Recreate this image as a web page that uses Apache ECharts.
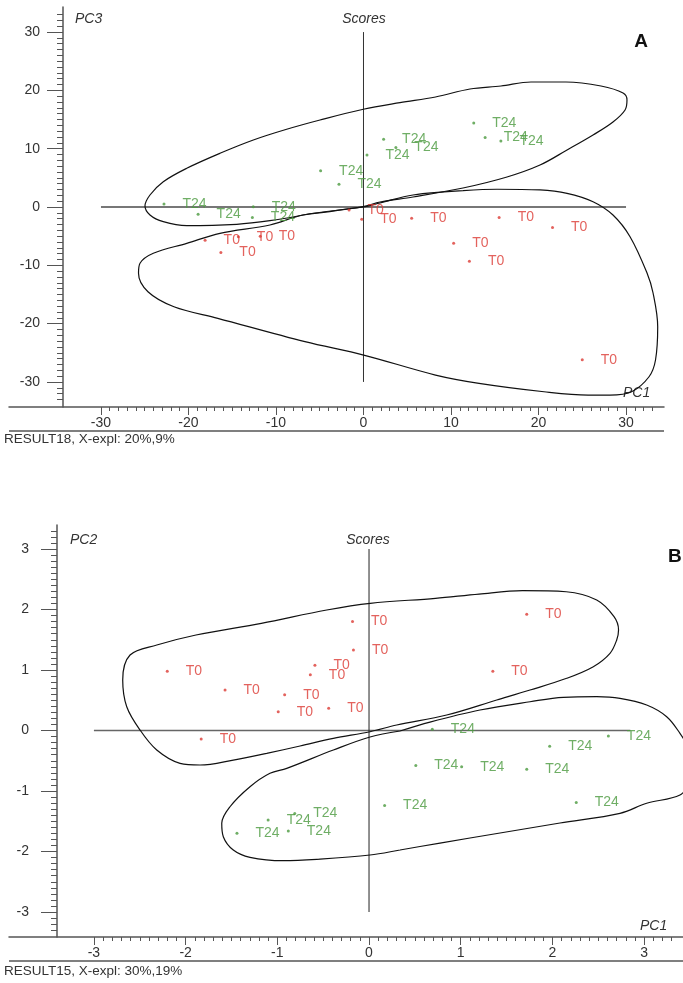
<!DOCTYPE html>
<html>
<head>
<meta charset="utf-8">
<script src="https://cdn.jsdelivr.net/npm/echarts@6/dist/echarts.min.js"></script>
<style>
  html, body { margin: 0; padding: 0; background: #fff; }
  #chart { width: 683px; height: 983px; }
</style>
</head>
<body>
<div id="chart"></div>
<script>
//--------------------------------
// Data : panel A (PC1 / PC3)
//--------------------------------
const aT0 = [[-18.1,-5.7],[-16.3,-7.8],[-14.3,-5.1],[-11.8,-5.0],[-1.65,-0.5],[-0.2,-2.1],
             [5.5,-1.95],[10.3,-6.2],[12.1,-9.3],[15.5,-1.8],[21.6,-3.5],[25.0,-26.2]];
const aT24 = [[-22.8,0.5],[-18.9,-1.25],[-12.6,0.05],[-12.7,-1.8],[-4.9,6.2],[-2.8,3.9],
              [0.4,8.9],[2.3,11.6],[3.7,10.2],[12.6,14.4],[13.9,11.9],[15.7,11.3]];
const aLoopT24 = [[-6.91,-1.37],[-10.69,-2.35],[-14.49,-2.97],[-20.2,-3.21],[-22.88,-2.52],[-24.4,-1.37],
  [-24.97,0.17],[-24.4,2.06],[-22.88,4.34],[-20.2,6.64],[-16.4,9.21],[-12.59,11.49],[-8.78,13.33],
  [-4.97,14.92],[-0.02,16.76],[4.17,17.89],[8.23,18.87],[12.17,20.24],[15.71,20.75],[19.14,21.44],
  [23.14,21.44],[27.14,20.75],[29.66,19.55],[30.11,18.35],[29.89,16.64],[28.51,14.58],[26.23,12.35],
  [23.26,9.78],[20.17,7.2],[16.4,5.15],[11.37,3.26],[5.66,1.72],[1.89,0.86],[-0.06,0.05],[-6.91,-1.37]];
const aLoopT0 = [[11.37,2.8],[15.26,3.04],[20.17,2.92],[23.26,2.35],[26.23,0.91],[28.51,-1.37],
  [30.46,-5.09],[32.4,-11.32],[33.09,-14.75],[33.62,-20.53],[33.37,-26.24],[32.63,-29.11],[30.63,-31.68],
  [28.17,-32.25],[25.66,-32.25],[20.63,-31.68],[13.2,-30.24],[8.23,-28.82],[0.02,-25.39],[-6.69,-23.1],
  [-16.65,-19.09],[-21.66,-17.1],[-24.63,-14.53],[-25.71,-11.37],[-25.54,-9.66],[-24.02,-7.94],
  [-20.2,-6.23],[-16.4,-4.51],[-10.69,-3.09],[-6.91,-1.37],[-0.06,0],[1.89,0.69],[5.66,2.06],[11.37,2.8]];
const aCrossH = [[-30,0],[30,0]];
const aCrossV = [[0,-30],[0,30]];
const aTicksX = [-30,-20,-10,0,10,20,30];
const aTicksY = [-30,-20,-10,0,10,20,30];

//--------------------------------
// Data : panel B (PC1 / PC2)
//--------------------------------
const bT0 = [[-2.2,0.98],[-1.83,-0.14],[-1.57,0.67],[-0.99,0.31],[-0.92,0.59],[-0.64,0.92],
             [-0.59,1.08],[-0.44,0.37],[-0.18,1.8],[-0.17,1.33],[1.35,0.98],[1.72,1.92]];
const bT24 = [[-1.44,-1.7],[-1.1,-1.48],[-0.88,-1.66],[-0.81,-1.37],[0.17,-1.24],[0.51,-0.58],
              [0.69,0.02],[1.01,-0.6],[1.72,-0.64],[1.97,-0.26],[2.26,-1.19],[2.61,-0.09]];
const bLoopT0 = [[-2.497,0.008],[-2.642,0.393],[-2.686,0.835],[-2.606,1.248],[-2.314,1.413],[-1.887,1.579],
  [-1.174,1.772],[-0.461,1.992],[0.013,2.102],[0.725,2.185],[1.2,2.256],[1.675,2.311],[2.15,2.294],
  [2.483,2.157],[2.672,1.881],[2.721,1.661],[2.701,1.496],[2.628,1.276],[2.446,1.055],[2.156,0.863],
  [1.756,0.669],[1.393,0.504],[0.847,0.256],[0.302,0.091],[0.011,-0.02],[-0.389,-0.129],[-0.752,-0.256],
  [-1.116,-0.377],[-1.48,-0.488],[-1.843,-0.57],[-2.061,-0.542],[-2.315,-0.322],[-2.497,0.008]];
const bLoopT24 = [[0.338,-0.008],[0.665,0.14],[1.21,0.339],[1.756,0.476],[2.119,0.549],[2.483,0.559],
  [2.737,0.532],[3.028,0.421],[3.246,0.228],[3.391,-0.046],[3.5,-0.322],[3.555,-0.57],[3.5,-0.851],
  [3.391,-1.066],[3.028,-1.203],[2.737,-1.369],[2.083,-1.529],[1.429,-1.694],[0.774,-1.86],[0.338,-1.975],
  [0.011,-2.058],[-0.57,-2.129],[-0.935,-2.152],[-1.298,-2.096],[-1.48,-1.975],[-1.589,-1.755],
  [-1.606,-1.534],[-1.516,-1.26],[-1.298,-0.929],[-1.08,-0.707],[-0.897,-0.625],[-0.389,-0.322],
  [0.011,-0.107],[0.338,-0.008]];
const bCrossH = [[-3,0],[2.85,0]];
const bCrossV = [[0,-3],[0,3]];
const bTicksX = [-3,-2,-1,0,1,2,3];
const bTicksY = [-3,-2,-1,0,1,2,3];

//--------------------------------
// Style
//--------------------------------
const RED = '#dc3b34';
const GREEN = '#4b9a3e';
const AXIS = '#555';
const TXT = '#333';
const FONT = 'Liberation Sans';

const minorTicks = (from, to, step) => {
    let out = [];
    for (let i = Math.round(from / step); i <= Math.round(to / step); i++) {
        out.push(+(i * step).toFixed(3));
    }
    return out;
};

const mainX = (grid, min, max, ticks, margin) => ({
    type: 'value', gridIndex: grid, position: 'bottom', min: min, max: max,
    axisLine: { show: true, onZero: false, lineStyle: { color: AXIS, width: 1.5 } },
    axisTick: { show: true, customValues: ticks, length: 8, lineStyle: { color: AXIS } },
    axisLabel: { customValues: ticks, margin: margin, color: TXT, fontSize: 14, fontFamily: FONT },
    splitLine: { show: false }
});
const minorX = (grid, min, max, ticks) => ({
    type: 'value', gridIndex: grid, position: 'bottom', min: min, max: max,
    axisLine: { show: false, onZero: false },
    axisTick: { show: true, customValues: ticks, length: 4, lineStyle: { color: AXIS } },
    axisLabel: { show: false },
    splitLine: { show: false }
});
const mainY = (grid, min, max, ticks, offset, margin) => ({
    type: 'value', gridIndex: grid, position: 'left', offset: offset, min: min, max: max,
    axisLine: { show: true, onZero: false, lineStyle: { color: AXIS, width: 1.5 } },
    axisTick: { show: true, customValues: ticks, length: 16, lineStyle: { color: AXIS } },
    axisLabel: { customValues: ticks, margin: margin, color: TXT, fontSize: 14, fontFamily: FONT },
    splitLine: { show: false }
});
const minorY = (grid, min, max, ticks, offset) => ({
    type: 'value', gridIndex: grid, position: 'left', offset: offset, min: min, max: max,
    axisLine: { show: false, onZero: false },
    axisTick: { show: true, customValues: ticks, length: 6, lineStyle: { color: AXIS } },
    axisLabel: { show: false },
    splitLine: { show: false }
});

const loop = (name, data, xi, yi) => ({
    name: name, type: 'line', xAxisIndex: xi, yAxisIndex: yi, data: data,
    smooth: 0.35, symbol: 'none', silent: true,
    lineStyle: { color: '#111', width: 1.2 }, z: 3
});
const cross = (data, xi, yi, color, width) => ({
    type: 'line', xAxisIndex: xi, yAxisIndex: yi, data: data, symbol: 'none', silent: true,
    lineStyle: { color: color, width: width }, z: 2
});
const points = (name, data, xi, yi, color) => ({
    name: name, type: 'scatter', xAxisIndex: xi, yAxisIndex: yi, data: data,
    symbol: 'circle', symbolSize: 3,
    itemStyle: { color: color },
    label: {
        show: true, position: 'right', distance: 17, formatter: name,
        color: color, fontSize: 14, fontFamily: FONT
    },
    z: 5
});

const italic = (text, x, y, align) => ({
    type: 'text', x: x, y: y,
    style: { text: text, fill: TXT, font: 'italic 14px "Liberation Sans"',
             textAlign: align || 'left', textVerticalAlign: 'middle' }
});
const plain = (text, x, y) => ({
    type: 'text', x: x, y: y,
    style: { text: text, fill: TXT, font: '13.5px "Liberation Sans"', textVerticalAlign: 'middle' }
});
const sep = (x1, x2, y) => ({
    type: 'line', shape: { x1: x1, y1: y, x2: x2, y2: y },
    style: { stroke: AXIS, lineWidth: 1.5 }
});

let myChart = echarts.init(document.getElementById('chart'));
let options = {
    animation: false,
    backgroundColor: '#fff',
    grid: [
        { left: 9, top: 7, width: 655, height: 400 },
        { left: 9, top: 525, width: 674, height: 412 }
    ],
    xAxis: [
        mainX(0, -40.51, 34.34, aTicksX, 9),
        minorX(0, -40.51, 34.34, minorTicks(-30, 33, 1)),
        mainX(1, -3.926, 3.424, bTicksX, 9),
        minorX(1, -3.926, 3.424, minorTicks(-3, 3.3, 0.1))
    ],
    yAxis: [
        mainY(0, -34.3, 34.3, aTicksY, -54, 23),
        minorY(0, -34.3, 34.3, minorTicks(-33, 33, 1), -54),
        mainY(1, -3.413, 3.397, bTicksY, -48, 28),
        minorY(1, -3.413, 3.397, minorTicks(-3.3, 3.3, 0.1), -48)
    ],
    series: [
        cross(aCrossH, 0, 0, '#777', 2),
        cross(aCrossV, 0, 0, '#333', 1),
        loop('A T24', aLoopT24, 0, 0),
        loop('A T0', aLoopT0, 0, 0),
        points('T0', aT0, 0, 0, RED),
        points('T24', aT24, 0, 0, GREEN),

        cross(bCrossH, 2, 2, '#666', 1.6),
        cross(bCrossV, 2, 2, '#222', 1),
        loop('B T0', bLoopT0, 2, 2),
        loop('B T24', bLoopT24, 2, 2),
        points('T0', bT0, 2, 2, RED),
        points('T24', bT24, 2, 2, GREEN)
    ],
    graphic: [
        italic('PC3', 75, 19),
        italic('Scores', 364, 19, 'center'),
        italic('PC1', 623, 393),
        { type: 'text', x: 641, y: 42,
          style: { text: 'A', fill: '#111', font: 'bold 19px "Liberation Sans"',
                   textAlign: 'center', textVerticalAlign: 'middle' } },
        sep(9, 664, 431),
        plain('RESULT18, X-expl: 20%,9%', 4, 439),

        italic('PC2', 70, 540),
        italic('Scores', 368, 540, 'center'),
        italic('PC1', 640, 926),
        { type: 'text', x: 668, y: 557,
          style: { text: 'B', fill: '#111', font: 'bold 19px "Liberation Sans"',
                   textVerticalAlign: 'middle' } },
        sep(9, 683, 961),
        plain('RESULT15, X-expl: 30%,19%', 4, 971)
    ]
};
myChart.setOption(options);
</script>
</body>
</html>
